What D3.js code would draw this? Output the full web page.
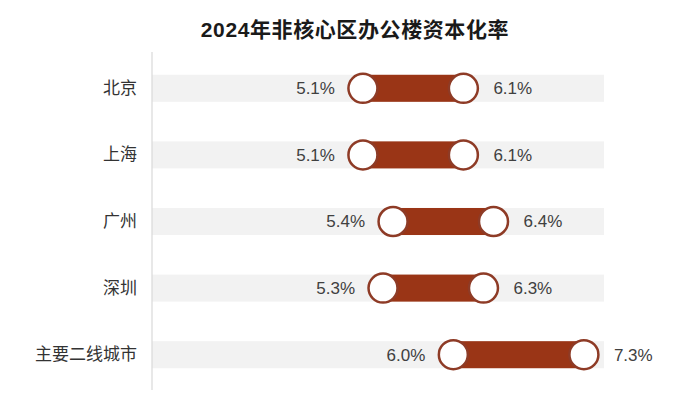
<!DOCTYPE html>
<html>
<head>
<meta charset="utf-8">
<script src="https://cdn.jsdelivr.net/npm/d3@7"></script>
<style>
  html, body { margin: 0; padding: 0; background: #fff; }
  svg { display: block; }
  text { font-family: "Liberation Sans", Arial, "Noto Sans CJK SC", sans-serif; }
</style>
</head>
<body>
<svg id="chart" width="700" height="396"></svg>
<script>
const title = "2024年非核心区办公楼资本化率";
const categories = ["北京", "上海", "广州", "深圳", "主要二线城市"];
const lowValues = [5.1, 5.1, 5.4, 5.3, 6.0];
const highValues = [6.1, 6.1, 6.4, 6.3, 7.3];
const xDomain = [3, 7.5];

const svg = d3.select("#chart");
const x = d3.scaleLinear().domain(xDomain).range([152, 604]);
const y = d3.scaleBand().domain(categories).range([55, 388])
  .paddingInner(0.594).paddingOuter(0.297);
const bw = y.bandwidth();
const fmt = v => d3.format(".1f")(v) + "%";

svg.append("text")
  .attr("x", 355).attr("y", 37)
  .attr("text-anchor", "middle")
  .attr("font-size", 21).attr("font-weight", "bold")
  .attr("letter-spacing", 0.6)
  .attr("fill", "#1a1a1a")
  .text(title);

const data = categories.map((c, i) => ({ c, lo: lowValues[i], hi: highValues[i] }));

// background bands
svg.selectAll("rect.bg").data(data).join("rect")
  .attr("class", "bg")
  .attr("x", x(xDomain[0])).attr("y", d => y(d.c))
  .attr("width", x(xDomain[1]) - x(xDomain[0])).attr("height", bw)
  .attr("fill", "#f2f2f2");

// axis
const yAxis = d3.axisLeft(y).tickSize(0).tickPadding(15);
const ag = svg.append("g").attr("transform", `translate(${x(xDomain[0])},0)`).call(yAxis);
ag.select(".domain").attr("stroke", "#d9d9d9").attr("stroke-width", 1.2)
  .attr("d", "M0,52V390");
ag.selectAll(".tick text").attr("font-size", 17).attr("fill", "#333")
  .style("font-family", "\"Noto Sans CJK SC\", sans-serif");

// range bars
svg.selectAll("rect.rng").data(data).join("rect")
  .attr("class", "rng")
  .attr("x", d => x(d.lo)).attr("y", d => y(d.c))
  .attr("width", d => x(d.hi) - x(d.lo)).attr("height", bw)
  .attr("fill", "#9a3516");

// circles
const cy = d => y(d.c) + bw / 2;
["lo", "hi"].forEach(k => {
  svg.selectAll("circle." + k).data(data).join("circle")
    .attr("class", k)
    .attr("cx", d => x(d[k])).attr("cy", cy)
    .attr("r", 14.5)
    .attr("fill", "#fff")
    .attr("stroke", "#8e3b26").attr("stroke-width", 2.5);
});

// labels
svg.selectAll("text.lo").data(data).join("text")
  .attr("class", "lo")
  .attr("x", d => x(d.lo) - 28).attr("y", cy)
  .attr("dy", "0.35em").attr("text-anchor", "end")
  .attr("font-size", 17).attr("fill", "#404040")
  .text(d => fmt(d.lo));
svg.selectAll("text.hi").data(data).join("text")
  .attr("class", "hi")
  .attr("x", d => x(d.hi) + 30).attr("y", cy)
  .attr("dy", "0.35em").attr("text-anchor", "start")
  .attr("font-size", 17).attr("fill", "#404040")
  .text(d => fmt(d.hi));
</script>
</body>
</html>
